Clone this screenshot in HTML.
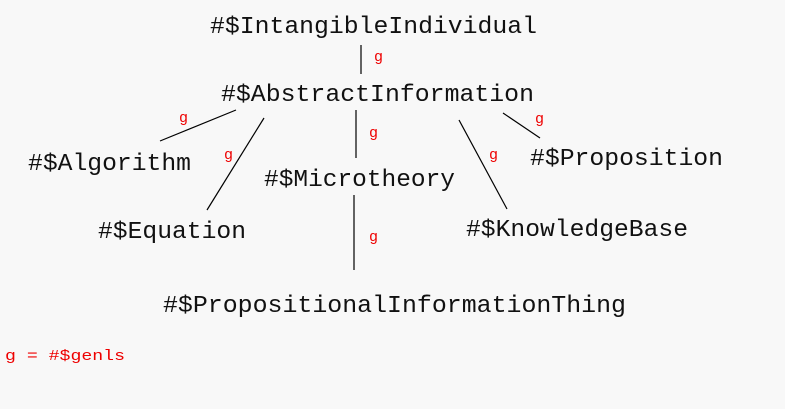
<!DOCTYPE html>
<html><head><style>
html,body{margin:0;padding:0;background:#f8f8f8;}
svg{display:block;}
.t{font-family:"Liberation Mono",monospace;font-size:24px;fill:#111;}
.g{font-family:"Liberation Mono",monospace;font-size:15px;fill:#e00;}
line{stroke:#000;stroke-width:1.2;}
</style></head><body>
<svg width="785" height="409" viewBox="0 0 785 409" xmlns="http://www.w3.org/2000/svg">
<rect width="785" height="409" fill="#f8f8f8"/>
<text class="t" x="210" y="33" textLength="327" lengthAdjust="spacingAndGlyphs">#$IntangibleIndividual</text>
<text class="t" x="221" y="101" textLength="313" lengthAdjust="spacingAndGlyphs">#$AbstractInformation</text>
<text class="t" x="28" y="170" textLength="163" lengthAdjust="spacingAndGlyphs">#$Algorithm</text>
<text class="t" x="264" y="186" textLength="191" lengthAdjust="spacingAndGlyphs">#$Microtheory</text>
<text class="t" x="530" y="165" textLength="193" lengthAdjust="spacingAndGlyphs">#$Proposition</text>
<text class="t" x="98" y="238" textLength="148" lengthAdjust="spacingAndGlyphs">#$Equation</text>
<text class="t" x="466" y="236" textLength="222" lengthAdjust="spacingAndGlyphs">#$KnowledgeBase</text>
<text class="t" x="163" y="312" textLength="463" lengthAdjust="spacingAndGlyphs">#$PropositionalInformationThing</text>
<line x1="361" y1="45" x2="361" y2="74"/>
<line x1="160" y1="141" x2="236" y2="110"/>
<line x1="207" y1="210" x2="264" y2="118"/>
<line x1="356" y1="110" x2="356" y2="158"/>
<line x1="459" y1="120" x2="507" y2="209"/>
<line x1="503" y1="113" x2="540" y2="138"/>
<line x1="354" y1="195" x2="354" y2="270"/>
<text class="g" x="374" y="61">g</text>
<text class="g" x="179" y="122">g</text>
<text class="g" x="224" y="159">g</text>
<text class="g" x="369" y="137">g</text>
<text class="g" x="489" y="159">g</text>
<text class="g" x="535" y="123">g</text>
<text class="g" x="369" y="241">g</text>
<text class="g" x="5" y="360" textLength="120" lengthAdjust="spacingAndGlyphs">g = #$genls</text>
</svg>
</body></html>
